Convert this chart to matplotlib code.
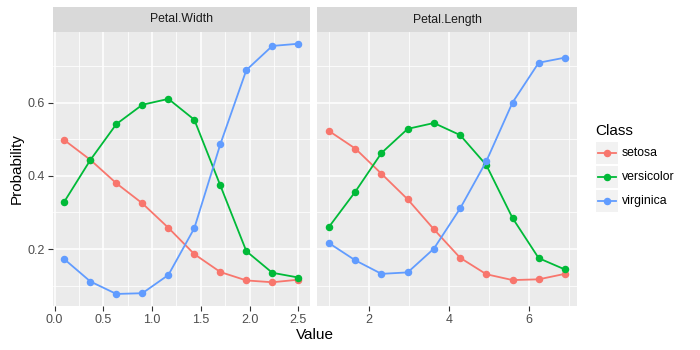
import matplotlib
matplotlib.use("Agg")
import matplotlib.pyplot as plt
from matplotlib.ticker import FixedLocator
from matplotlib.patches import Rectangle
from matplotlib.lines import Line2D

plt.rcParams['font.family'] = ['Liberation Sans', 'DejaVu Sans']

classes = ["setosa", "versicolor", "virginica"]
colors = ["#F8766D", "#00BA38", "#619CFF"]

width_x = [0.1, 0.367, 0.633, 0.9, 1.167, 1.433, 1.7, 1.967, 2.233, 2.5]
width_setosa = [0.498, 0.444, 0.380, 0.325, 0.258, 0.186, 0.137, 0.114, 0.109, 0.116]
width_versicolor = [0.330, 0.444, 0.542, 0.595, 0.611, 0.554, 0.374, 0.194, 0.135, 0.122]
width_virginica = [0.172, 0.111, 0.077, 0.079, 0.129, 0.257, 0.487, 0.690, 0.756, 0.762]

length_x = [1.0, 1.656, 2.311, 2.967, 3.622, 4.278, 4.933, 5.589, 6.244, 6.9]
length_setosa = [0.523, 0.475, 0.406, 0.336, 0.254, 0.176, 0.131, 0.115, 0.117, 0.132]
length_versicolor = [0.261, 0.357, 0.463, 0.529, 0.545, 0.512, 0.430, 0.285, 0.175, 0.144]
length_virginica = [0.216, 0.169, 0.132, 0.136, 0.201, 0.311, 0.440, 0.601, 0.710, 0.724]

panels = [
    ("Petal.Width", width_x, [width_setosa, width_versicolor, width_virginica],
     [0.0, 0.5, 1.0, 1.5, 2.0, 2.5], ["0.0", "0.5", "1.0", "1.5", "2.0", "2.5"]),
    ("Petal.Length", length_x, [length_setosa, length_versicolor, length_virginica],
     [2, 4, 6], ["2", "4", "6"]),
]

W, H = 700, 350
fig = plt.figure(figsize=(7, 3.5), dpi=100)

panel_lr = [(52.7, 310.0), (317.3, 576.7)]
top, bottom = 31.7, 306.0
strip_top = 7.3

ylim = (0.044, 0.795)
yticks = [0.2, 0.4, 0.6]

for i, (name, xs, series, xt, xtl) in enumerate(panels):
    l, r = panel_lr[i]
    ax = fig.add_axes([l / W, 1 - bottom / H, (r - l) / W, (bottom - top) / H])
    ax.set_facecolor("#EBEBEB")
    for s in ax.spines.values():
        s.set_visible(False)
    span = xs[-1] - xs[0]
    ax.set_xlim(xs[0] - 0.05 * span, xs[-1] + 0.05 * span)
    ax.set_ylim(*ylim)
    ax.set_xticks(xt)
    ax.set_xticklabels(xtl)
    minor_x = [(xt[k] + xt[k + 1]) / 2 for k in range(len(xt) - 1)]
    step = xt[1] - xt[0]
    minor_x = [xt[0] - step / 2] + minor_x + [xt[-1] + step / 2]
    ax.xaxis.set_minor_locator(FixedLocator(minor_x))
    ax.set_yticks(yticks)
    ax.yaxis.set_minor_locator(FixedLocator([0.1, 0.3, 0.5, 0.7]))
    ax.grid(which="major", color="white", linewidth=1.1)
    ax.grid(which="minor", color="white", linewidth=0.55)
    ax.set_axisbelow(True)
    ax.tick_params(which="major", length=3.8, width=0.8, color="#333333",
                   labelsize=9, labelcolor="#4D4D4D", pad=2)
    ax.tick_params(which="minor", length=0)
    if i == 0:
        ax.set_yticklabels(["0.2", "0.4", "0.6"])
    else:
        ax.tick_params(axis="y", which="major", length=0, labelleft=False)
    for ys, c in zip(series, colors):
        ax.plot(xs, ys, color=c, linewidth=1.3, marker="o", markersize=4.4, zorder=3)
    # strip
    sax = fig.add_axes([l / W, 1 - top / H, (r - l) / W, (top - strip_top) / H])
    sax.set_facecolor("#D9D9D9")
    sax.set_xticks([]); sax.set_yticks([])
    for s in sax.spines.values():
        s.set_visible(False)
    sax.text(0.5, 0.5, name, ha="center", va="center", fontsize=8.8, color="#1A1A1A",
             transform=sax.transAxes)

fig.text((52.7 + 576.7) / 2 / W, 1 - 335 / H, "Value", ha="center", va="center", fontsize=11)
fig.text(17 / W, 1 - (top + bottom) / 2 / H, "Probability", ha="center", va="center",
         fontsize=11, rotation=90)

# legend
fig.text(595 / W, 1 - 131 / H, "Class", ha="left", va="center", fontsize=11)
for k, (cls, c) in enumerate(zip(classes, colors)):
    y0 = 142 + k * 24
    fig.patches.append(Rectangle((595.7 / W, 1 - (y0 + 22) / H), 22 / W, 22 / H,
                                 transform=fig.transFigure, facecolor="#F2F2F2",
                                 edgecolor="none"))
    yc = 1 - (y0 + 11) / H
    fig.lines.append(Line2D([597.5 / W, 616 / W], [yc, yc], transform=fig.transFigure,
                            color=c, linewidth=1.3))
    fig.lines.append(Line2D([606.7 / W], [yc], transform=fig.transFigure, color=c,
                            marker="o", markersize=4.4, linestyle="none"))
    fig.text(621.7 / W, yc, cls, ha="left", va="center", fontsize=8.8, color="black")

fig.savefig("out.png", dpi=100)
